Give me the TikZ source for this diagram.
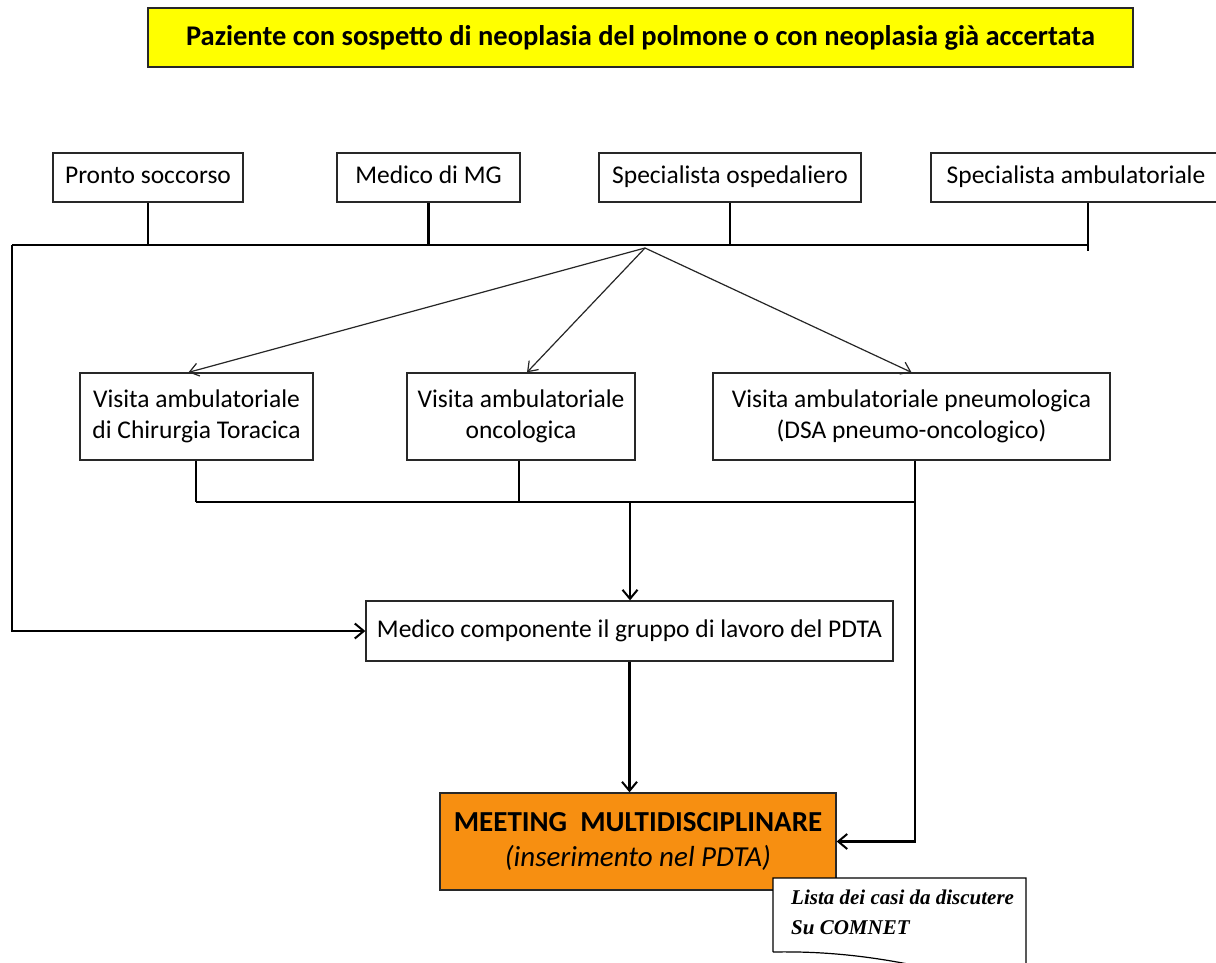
\documentclass[tikz,border=0pt]{standalone}
\usepackage{fontspec}
\setmainfont{Carlito}
\newfontfamily\docfont{Liberation Serif}
\usetikzlibrary{arrows.meta,calc}
\definecolor{titleyellow}{RGB}{255,255,0}
\definecolor{meetorange}{RGB}{247,143,17}
\definecolor{boxline}{RGB}{40,40,40}
\tikzset{
  box/.style={draw=boxline,line width=1.3pt,fill=white,inner sep=0pt,align=center,font=\fontsize{25.5}{31}\selectfont},
  oneline/.style={text height=18pt,text depth=6pt},
  conn/.style={line width=2.2pt,black},
  arr/.style={conn,-{Straight Barb[length=9pt,width=15pt,line width=2pt]}},
  darr/.style={line width=1.2pt,black!85,-{Straight Barb[length=9pt,width=13pt,line width=1.2pt]}},
}
\begin{document}
\begin{tikzpicture}[x=1pt,y=1pt]
\useasboundingbox (0,0) rectangle (1216,-963);
\fill[white] (0,0) rectangle (1216,-963);
\clip (0,0) rectangle (1216,-963);

% title
\node[box,fill=titleyellow,minimum width=985,minimum height=59,font=\fontsize{28.5}{34}\bfseries\selectfont] (title) at (640.5,-37.5)
  {Paziente con sospetto di neoplasia del polmone o con neoplasia già accertata};

% top row
\node[box,oneline,minimum width=190,minimum height=49] (ps) at (148,-177.5) {Pronto soccorso};
\node[box,oneline,minimum width=183,minimum height=49] (mg) at (428.5,-177.5) {Medico di MG};
\node[box,oneline,minimum width=262,minimum height=49] (so) at (730,-177.5) {Specialista ospedaliero};
\node[box,oneline,minimum width=290,minimum height=49] (sa) at (1076,-177.5) {Specialista ambulatoriale};

\coordinate (busL) at (12,-245);
\coordinate (busR) at (1088,-245);
\coordinate (hub) at (645,-248);

\draw[conn] (ps.south) -- (ps.south |- busL);
\draw[conn] (mg.south) -- (mg.south |- busL);
\draw[conn] (so.south) -- (so.south |- busL);
\draw[conn] (busR |- sa.south) -- (1088,-251);
\draw[conn] (busL) -- (busR);

% middle row
\node[box,minimum width=233,minimum height=87] (chir) at (196.5,-416.5) {Visita ambulatoriale\\di Chirurgia Toracica};
\node[box,minimum width=228,minimum height=87] (onc) at (521,-416.5) {Visita ambulatoriale\\oncologica};
\node[box,minimum width=397,minimum height=87] (pne) at (911.5,-416.5) {Visita ambulatoriale pneumologica\\(DSA pneumo-oncologico)};

\draw[darr] (hub) -- ([xshift=-8pt]chir.north);
\draw[darr] (hub) -- ([xshift=6pt]onc.north);
\draw[darr] (hub) -- (pne.north);

% second bus
\coordinate (b2L) at (196,-502);
\coordinate (b2R) at (915,-502);
\coordinate (b2M) at (630,-502);
\draw[conn] (chir.south -| b2L) -- (b2L);
\draw[conn] (onc.south -| 519,0) -- (519,-502);
\draw[conn] (b2L) -- (b2R);

% medico componente
\node[box,oneline,minimum width=527,minimum height=60] (med) at (629.5,-631) {Medico componente il gruppo di lavoro del PDTA};
\draw[arr] (b2M) -- (b2M |- med.north);
\draw[arr] (busL) -- (12,-631) -- (med.west);

% meeting
\node[box,fill=meetorange,minimum width=396,minimum height=97,font=\fontsize{29}{35}\selectfont] (meet) at (638,-841.5)
  {\textbf{MEETING\ \ MULTIDISCIPLINARE}\\\textit{(inserimento nel PDTA)}};
\draw[arr] (med.south) -- (med.south |- meet.north);
\draw[arr] (b2R |- pne.south) -- (b2R) -- (b2R |- meet.east) -- (meet.east);

% document
\coordinate (dTL) at (773,-878);
\coordinate (dTR) at (1026,-878);
\draw[line width=1.2pt,fill=white] (773,-952) -- (dTL) -- (dTR) -- (1026,-990)
   .. controls (950,-975) and (880,-950) .. (773,-952);
\node[anchor=north west,align=left,inner sep=0pt,font=\docfont\fontsize{21}{30}\bfseries\itshape\selectfont] (doc) at (791,-890)
  {Lista dei casi da discutere\\Su COMNET};
\end{tikzpicture}
\end{document}
